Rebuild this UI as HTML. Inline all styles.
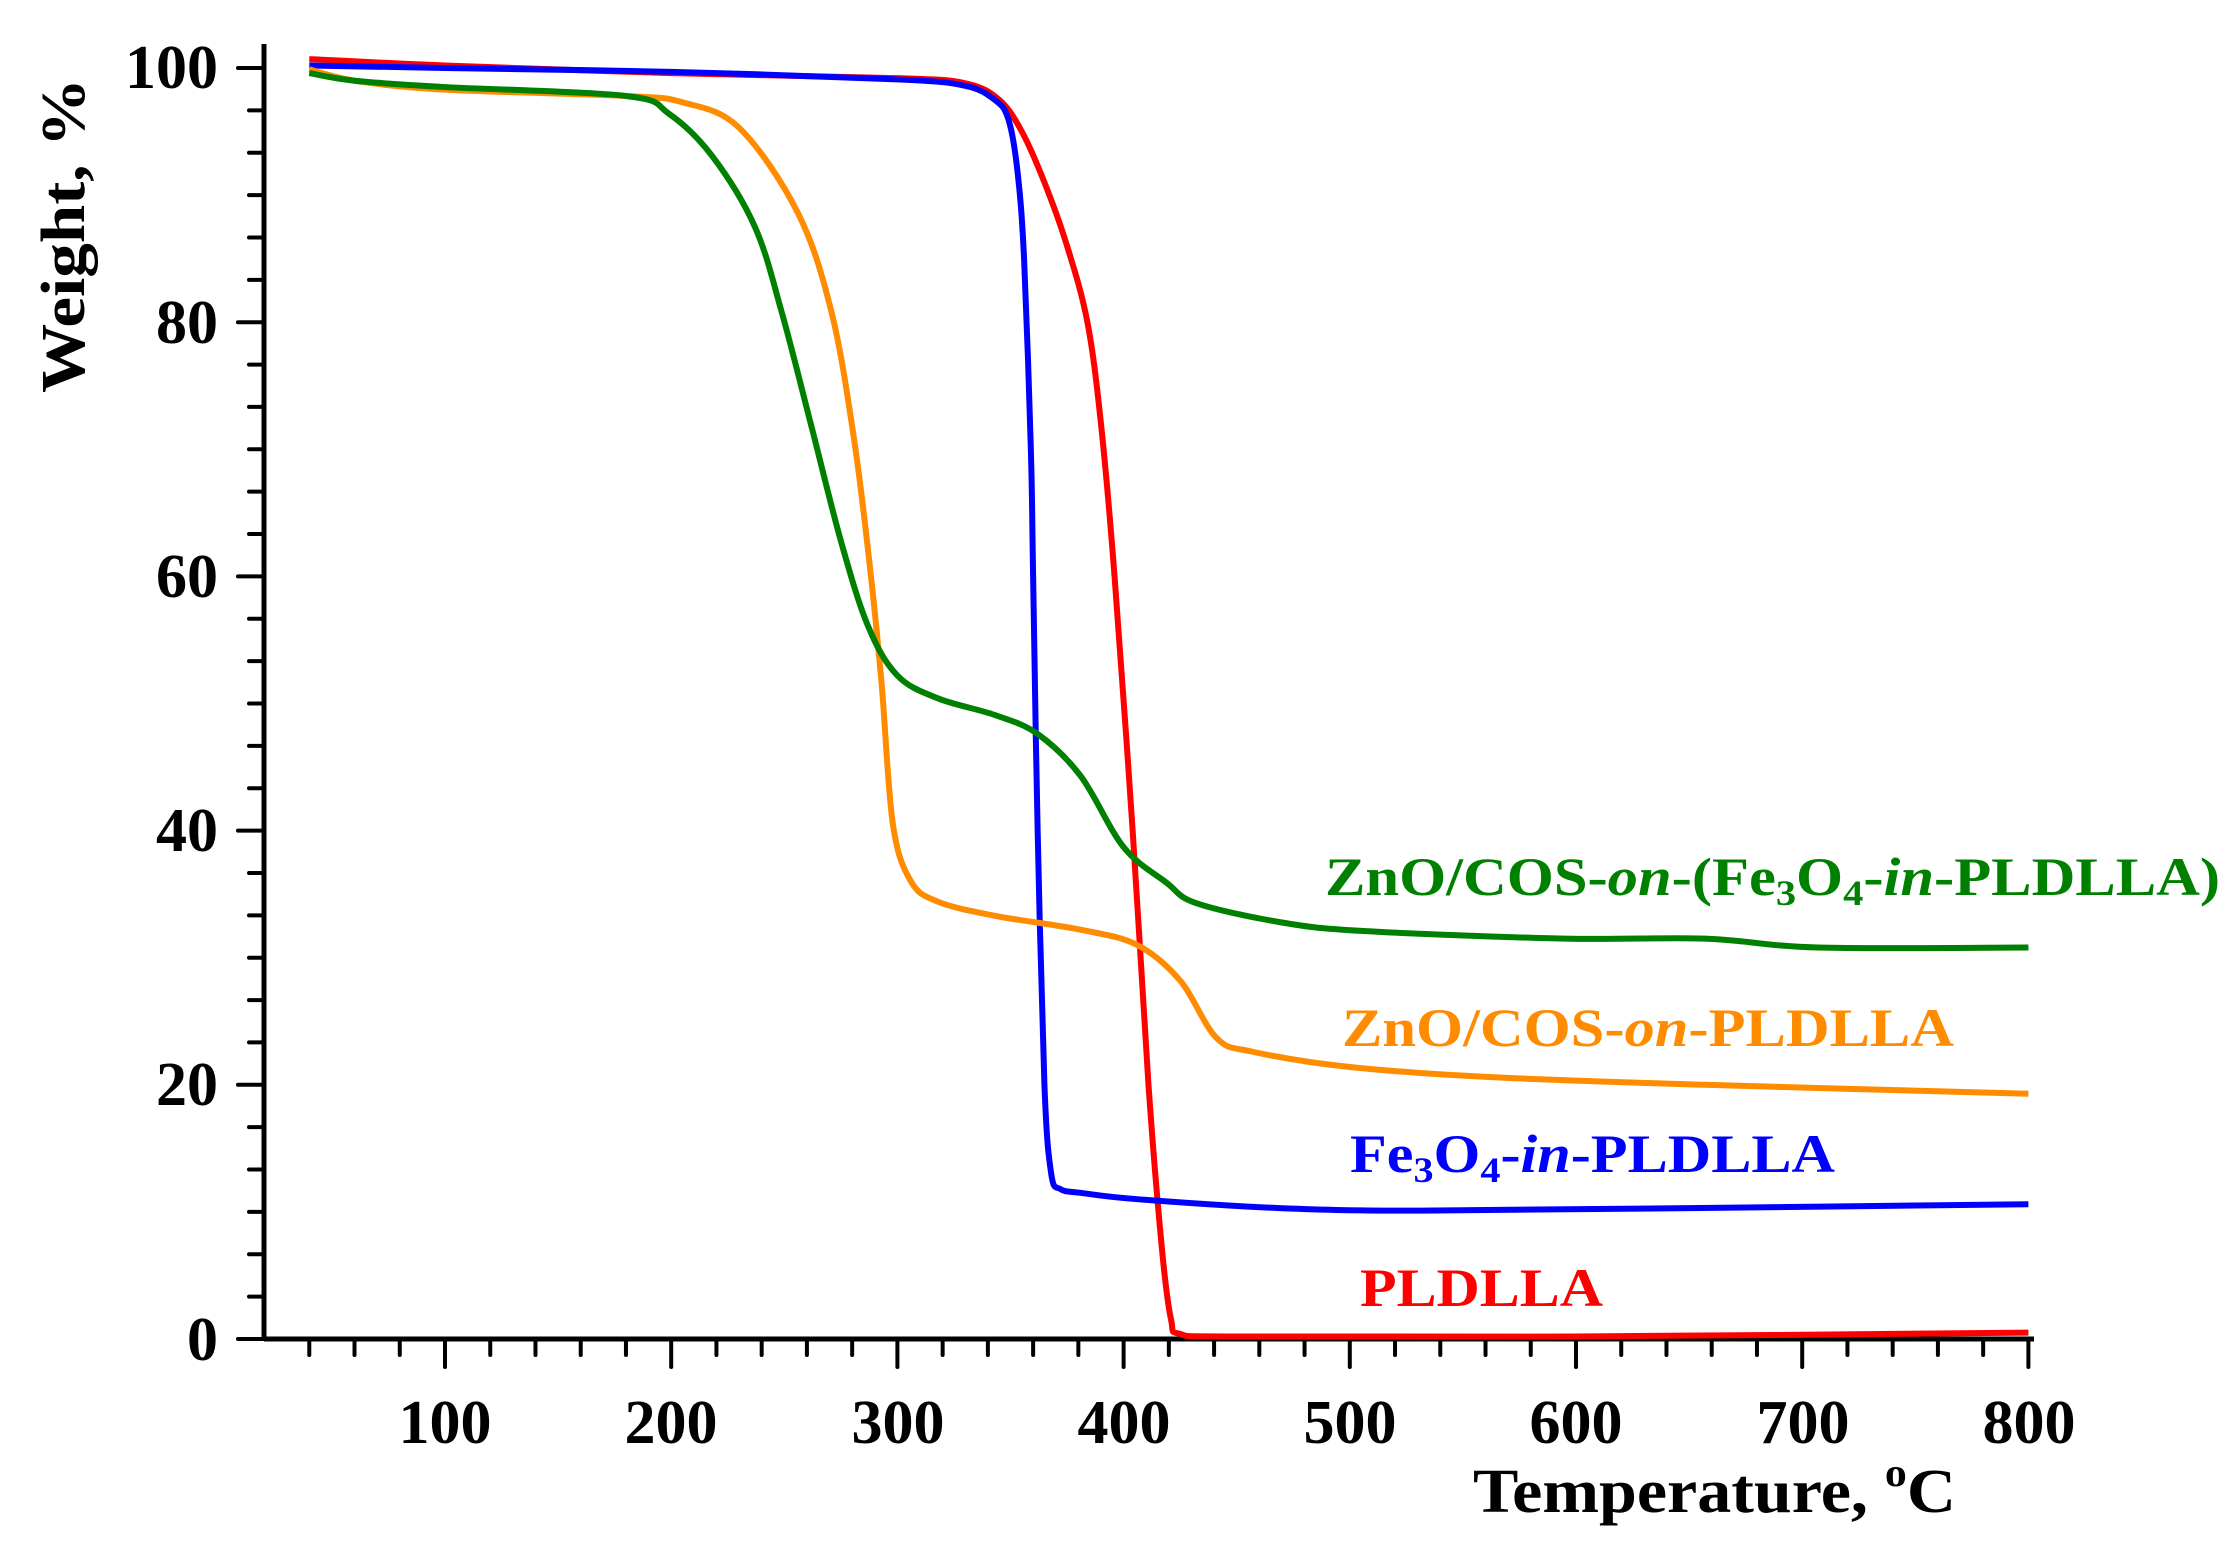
<!DOCTYPE html>
<html><head><meta charset="utf-8"><style>
html,body{margin:0;padding:0;background:#fff}
svg{display:block}
text{font-family:"Liberation Serif",serif;font-weight:bold}
</style></head><body>
<svg id="s" width="2227" height="1556" viewBox="0 0 2227 1556" xmlns="http://www.w3.org/2000/svg">
<g id="ticks" stroke="#000" stroke-width="4" stroke-linecap="round"></g>
<line x1="264" y1="1339" x2="2034" y2="1339" stroke="#000" stroke-width="5"/>
<line x1="264" y1="44" x2="264" y2="1339" stroke="#000" stroke-width="5"/>
<g id="curves" fill="none" stroke-width="6" stroke-linejoin="round"></g>
<g font-size="62" text-anchor="end">
<text x="218" y="88">100</text>
<text x="218" y="343">80</text>
<text x="218" y="597">60</text>
<text x="218" y="851">40</text>
<text x="218" y="1105">20</text>
<text x="218" y="1360">0</text>
</g>
<g font-size="62" text-anchor="middle">
<text x="445" y="1443">100</text>
<text x="671" y="1443">200</text>
<text x="898" y="1443">300</text>
<text x="1124" y="1443">400</text>
<text x="1350" y="1443">500</text>
<text x="1576" y="1443">600</text>
<text x="1803" y="1443">700</text>
<text x="2029" y="1443">800</text>
</g>
<text x="1473" y="1512" font-size="62" textLength="483" lengthAdjust="spacingAndGlyphs">Temperature, <tspan dy="-26" font-size="40">o</tspan><tspan dy="26">C</tspan></text>
<text transform="translate(84,393) rotate(-90)" font-size="62" textLength="315" lengthAdjust="spacingAndGlyphs">Weight, %</text>
<g font-size="54">
<text x="1325" y="895" fill="#008000" textLength="895" lengthAdjust="spacingAndGlyphs">ZnO/COS-<tspan font-style="italic">on</tspan>-(Fe<tspan font-size="36" dy="10">3</tspan><tspan dy="-10">O</tspan><tspan font-size="36" dy="10">4</tspan><tspan dy="-10">-</tspan><tspan font-style="italic">in</tspan>-PLDLLA)</text>
<text x="1342" y="1046" fill="#ff8c00" textLength="612" lengthAdjust="spacingAndGlyphs">ZnO/COS-<tspan font-style="italic">on</tspan>-PLDLLA</text>
<text x="1350" y="1172" fill="#0000ff" textLength="485" lengthAdjust="spacingAndGlyphs">Fe<tspan font-size="36" dy="10">3</tspan><tspan dy="-10">O</tspan><tspan font-size="36" dy="10">4</tspan><tspan dy="-10">-</tspan><tspan font-style="italic">in</tspan>-PLDLLA</text>
<text x="1360" y="1306" fill="#ff0000" textLength="243" lengthAdjust="spacingAndGlyphs">PLDLLA</text>
</g>
</svg>
<script>
var X=function(t){return 445+(t-100)*2.262}, Y=function(w){return 1339-w*12.71};
var NS="http://www.w3.org/2000/svg";
var tg=document.getElementById('ticks');
function ln(x1,y1,x2,y2){var l=document.createElementNS(NS,'line');l.setAttribute('x1',x1);l.setAttribute('y1',y1);l.setAttribute('x2',x2);l.setAttribute('y2',y2);tg.appendChild(l);}
for(var t=40;t<=800;t+=20){var maj=(t%100==0);ln(X(t),1339,X(t),1339+(maj?28:16));}
for(var i=0;i<=30;i++){var w=i*100/30;var maj=(i%6==0);ln(264,Y(w),264-(maj?26:15),Y(w));}
var data={
"#ff0000":[[40,100.7],[100,100.2],[200,99.6],[300,99.2],[330,98.8],[345,97.5],[355,95],[365,91],[375,86],[384,80],[390,72],[396,60],[404,40],[411,20],[417,7],[421,1.5],[425,0.4],[450,0.2],[600,0.2],[800,0.5]],
"#0000ff":[[40,100.2],[100,100],[200,99.7],[300,99.1],[330,98.6],[343,97.5],[349,96],[353,92],[356,85],[359,70],[360,60],[362,40],[365,20],[368,13],[372,11.8],[381,11.5],[406,11],[469,10.3],[532,10.1],[650,10.3],[800,10.6]],
"#ff8c00":[[40,99.9],[60,99],[100,98.3],[180,97.8],[205,97.3],[230,95.3],[256,88.6],[271,80.7],[281,70.6],[288,60.5],[293,51.6],[298,40.5],[306,36],[318,34.4],[343,33.3],[381,32.2],[406,31],[425,28.2],[441,23.7],[457,22.6],[500,21.4],[563,20.6],[657,20],[800,19.3]],
"#008000":[[40,99.6],[60,99],[100,98.5],[180,97.8],[199,96.4],[218,93.1],[237,87.5],[249,80.7],[262,71.8],[275,62.8],[287,56.1],[300,52.2],[318,50.4],[343,49.1],[362,47.6],[381,44.3],[400,38.7],[419,35.9],[432,34.3],[469,32.8],[506,32.1],[595,31.5],[657,31.5],[707,30.8],[800,30.8]]
};
var cg=document.getElementById('curves');
for(var c in data){var p=data[c].map(function(d){return [X(d[0]),Y(d[1])]});
var d="M"+p[0][0]+","+p[0][1];
for(var i=0;i<p.length-1;i++){var p0=p[i-1]||p[i],p1=p[i],p2=p[i+1],p3=p[i+2]||p2;
d+=" C"+(p1[0]+(p2[0]-p0[0])/6)+","+(p1[1]+(p2[1]-p0[1])/6)+" "+(p2[0]-(p3[0]-p1[0])/6)+","+(p2[1]-(p3[1]-p1[1])/6)+" "+p2[0]+","+p2[1];}
var e=document.createElementNS(NS,'path');e.setAttribute('d',d);e.setAttribute('stroke',c);cg.appendChild(e);}
</script>
</body></html>
